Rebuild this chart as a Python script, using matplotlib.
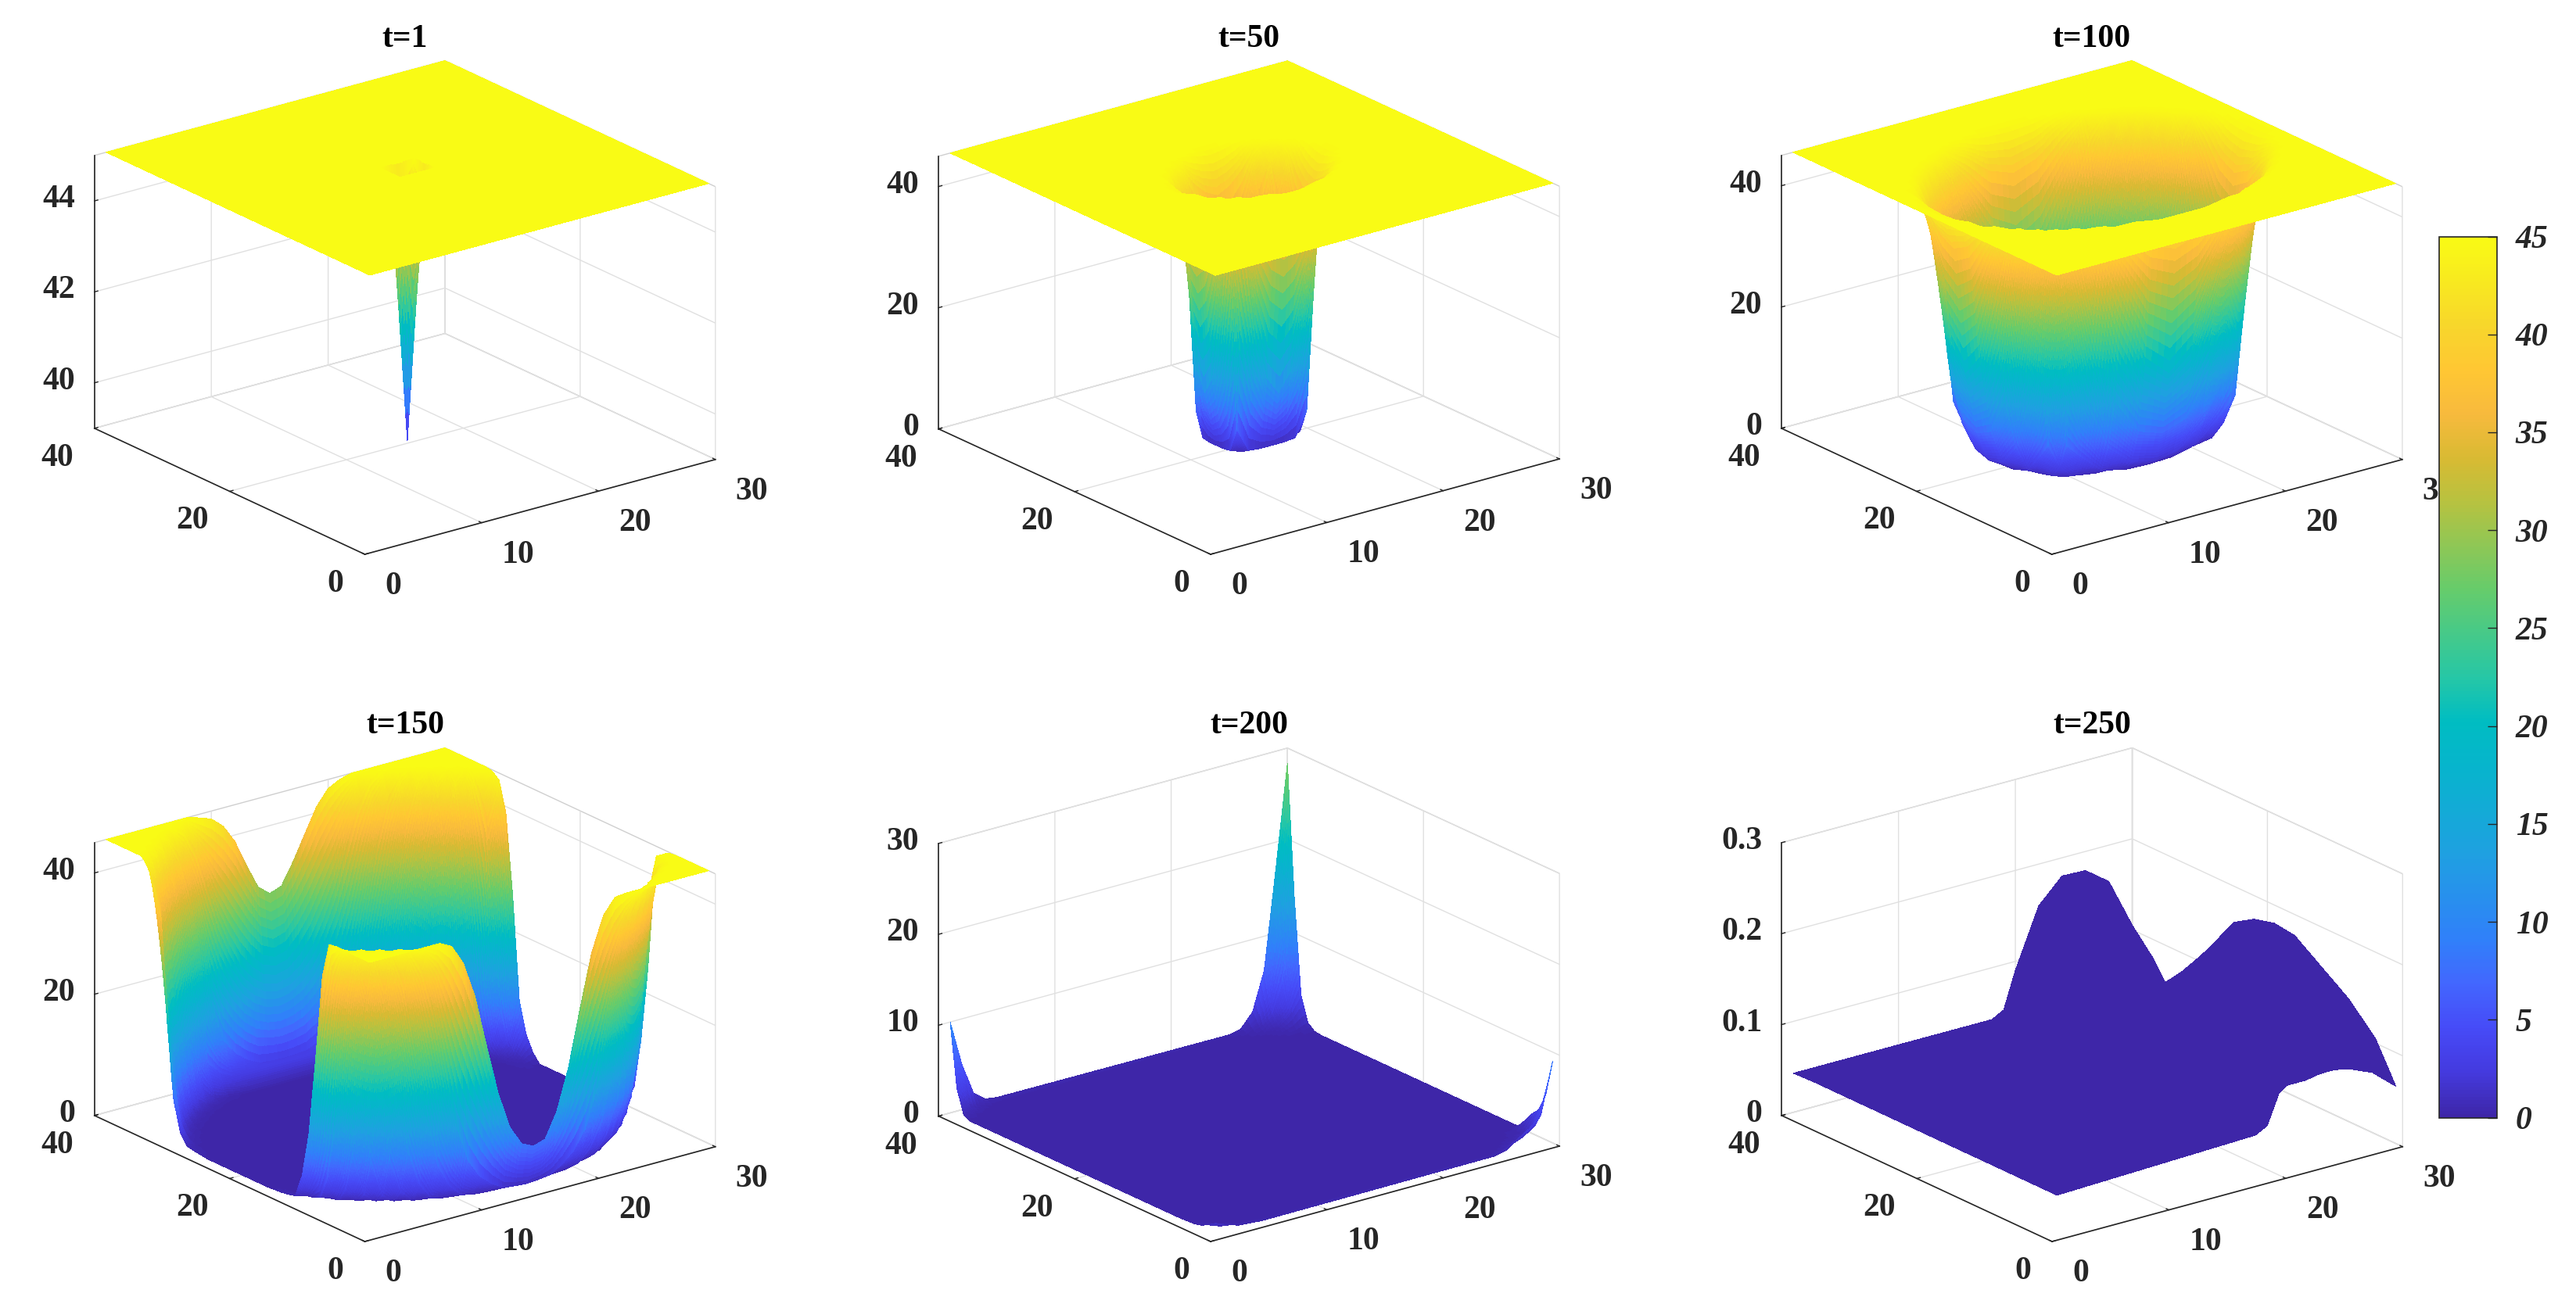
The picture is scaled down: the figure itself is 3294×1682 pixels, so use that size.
import numpy as np
import matplotlib
matplotlib.use("Agg")
import matplotlib.pyplot as plt
from matplotlib.colors import LinearSegmentedColormap, Normalize
from matplotlib.cm import ScalarMappable
from mpl_toolkits.mplot3d import proj3d

W, H = 3294, 1682
plt.rcParams.update({"font.family": "Liberation Serif", "font.weight": "bold", "font.size": 30,
                     "grid.color": "#e0e0e0", "grid.linewidth": 1.0, "axes3d.grid": True})

# ---------------- data ----------------
TITLES = ["t=1", "t=50", "t=100", "t=150", "t=200", "t=250"]
X_TICKS = [0, 10, 20, 30]
Y_TICKS = [0, 20, 40]
Z_TICKS = [[40, 42, 44], [0, 20, 40], [0, 20, 40], [0, 20, 40], [0, 10, 20, 30], [0, 0.1, 0.2, 0.3]]
Z_LIMS = [(39, 45), (0, 45), (0, 45), (0, 45), (0, 30), (0, 0.3)]
C_LIMS = [(39, 45), (0, 45), (0, 45), (0, 45), (0, 45), (0, 45)]
CBAR_TICKS = [0, 5, 10, 15, 20, 25, 30, 35, 40, 45]

T1_X = [1, 14, 15.5, 17, 30]
T1_Y = [1, 19, 20.5, 22, 40]
T1_Z = [[45, 45, 45, 45, 45],
        [45, 45, 45, 45, 45],
        [45, 45, 39, 45, 45],
        [45, 45, 45, 45, 45],
        [45, 45, 45, 45, 45]]

T50_X = [1, 8.5, 9.5, 10.5, 11.5, 12.5, 13.5, 14.5, 15.5, 16.5, 17.5, 18.5, 19.5, 20.5, 21.5, 22.5, 30]
T50_Y = [1, 13.5, 14.5, 15.5, 16.5, 17.5, 18.5, 19.5, 20.5, 21.5, 22.5, 23.5, 24.5, 25.5, 26.5, 27.5, 40]
T50_CORE = [
    [45, 45, 45, 45, 45, 45, 45, 45, 45, 45, 45, 45, 45, 45, 45],
    [45, 45, 45, 45, 45, 44.8, 44.3, 44, 44.3, 44.8, 45, 45, 45, 45, 45],
    [45, 45, 45, 44.9, 43.8, 41, 39, 38, 39, 41, 43.8, 44.9, 45, 45, 45],
    [45, 45, 44.9, 43, 38, 22, 13, 10, 13, 22, 38, 43, 44.9, 45, 45],
    [45, 45, 43.8, 38, 5, 1, .8, .8, .8, 1, 5, 38, 43.8, 45, 45],
    [45, 44.8, 41, 22, 1, .3, .3, .3, .3, .3, 1, 22, 41, 44.8, 45],
    [45, 44.3, 39, 13, .8, .3, .3, .3, .3, .3, .8, 13, 39, 44.3, 45],
    [45, 44, 38, 10, .8, .3, .3, .3, .3, .3, .8, 10, 38, 44, 45],
    [45, 44.3, 39, 13, .8, .3, .3, .3, .3, .3, .8, 13, 39, 44.3, 45],
    [45, 44.8, 41, 22, 1, .3, .3, .3, .3, .3, 1, 22, 41, 44.8, 45],
    [45, 45, 43.8, 38, 5, 1, .8, .8, .8, 1, 5, 38, 43.8, 45, 45],
    [45, 45, 44.9, 43, 38, 22, 13, 10, 13, 22, 38, 43, 44.9, 45, 45],
    [45, 45, 45, 44.9, 43.8, 41, 39, 38, 39, 41, 43.8, 44.9, 45, 45, 45],
    [45, 45, 45, 45, 45, 44.8, 44.3, 44, 44.3, 44.8, 45, 45, 45, 45, 45],
    [45, 45, 45, 45, 45, 45, 45, 45, 45, 45, 45, 45, 45, 45, 45]]

T100_X = [1, 1.5, 2.5, 3.5, 4.5, 5.5, 6.5, 7.5, 8.5, 9.5, 11.5, 13.5, 15.5, 17.5, 19.5, 21.5, 22.5, 23.5, 24.5, 25.5, 26.5, 27.5, 28.5, 29.5, 30]
T100_Y = [1, 6.5, 7.5, 8.5, 9.5, 10.5, 11.5, 12.5, 13.5, 14.5, 16.5, 18.5, 20.5, 22.5, 24.5, 26.5, 27.5, 28.5, 29.5, 30.5, 31.5, 32.5, 33.5, 34.5, 40]
# half rows, centre column first; offsets from the well centre: 0 2 4 6 7 8 9 10 11 12 13 14
H0 = [.3, .3, .3, .3, .3, .3, 1.5, 6.5, 17, 38, 44, 45]
H2 = [.3, .3, .3, .3, .3, .45, 2.3, 7.8, 20.6, 39.4, 44.2, 45]
H4 = [.3, .3, .3, .3, .35, 1.4, 5.6, 13.8, 31.4, 42.6, 44.9, 45]
H6 = [.3, .3, .3, .3, 1, 5, 14.5, 30.5, 42.1, 44.7, 45, 45]
H7 = [.3, .3, .35, 1, 3, 7, 25, 39.6, 44.1, 45, 45, 45]
H8 = [.3, .45, 1.4, 5, 7, 23.2, 38.3, 43.2, 44.9, 45, 45, 45]
H9 = [1.5, 2.3, 5.6, 14.5, 25, 38.3, 42.9, 44.7, 45, 45, 45, 45]
H10 = [6.5, 7.8, 13.8, 30.5, 39.6, 43.2, 44.7, 45, 45, 45, 45, 45]
H11 = [17, 20.6, 31.4, 42.1, 44.1, 44.9, 45, 45, 45, 45, 45, 45]
H12 = [38, 39.4, 42.6, 44.7, 45, 45, 45, 45, 45, 45, 45, 45]
H13 = [44, 44.2, 44.9, 45, 45, 45, 45, 45, 45, 45, 45, 45]
H14 = [45, 45, 45, 45, 45, 45, 45, 45, 45, 45, 45, 45]
T100_HALF_ROWS = [H14, H13, H12, H11, H10, H9, H8, H7, H6, H4, H2, H0, H2, H4, H6, H7, H8, H9, H10, H11, H12, H13, H14]

# t=150: unit grid. Each inner row lists x=1..15; the right part repeats x=14..1, and x=30 is its own list.
T150_X = list(range(1, 31))
T150_Y = list(range(1, 41))
T150_Y1 = [45, 45, 45, 45, 45, 45, 45, 44, 40.7, 34.7, 26, 17.6, 11.5, 8.3, 7.4,
           8, 12, 18.7, 28, 36.7, 42.3, 44.8, 45, 45, 45, 45, 45, 45, 45, 45]
T150_Y40 = [45, 45, 45, 45, 45, 45, 45, 45, 44.4, 43.7, 42, 39, 34.5, 30.4, 28.8,
            29.5, 33, 37, 41, 43.5, 44.5, 45, 45, 45, 45, 45, 45, 45, 45, 45]
T150_X30 = [45, 45, 45, 45, 45, 44.8, 43.5, 40, 24, 12, 3.8, 1, .3, .1, .1, .1, .1, .1, .1, .1,
            .1, .1, .1, .1, .1, 1.5, 4, 9, 26, 39, 43.8, 44.8, 45, 45, 45, 45, 45, 45]
T150_LEFT = [
    [45, 45, 45, 45, 44.4, 41.3, 34.5, 23.5, 13.3, 7.1, 4, 2.3, 1.1, .85, .7],
    [45, 45, 45, 44.1, 39.3, 28.7, 15.4, 6.7, 2.9, .96, .5, .35, .25, .2, .2],
    [45, 45, 44, 38, 24, 9.6, 3.7, .96, .45, .2, .1, .1, .1, .1, .1],
    [45, 44.1, 38, 22.8, 8.2, 2.5, .55, .25, .1, .1, .1, .1, .1, .1, .1],
    [45, 38.8, 23.5, 7.8, 1.8, .45, .15, .1, .1, .1, .1, .1, .1, .1, .1],
    [44.8, 27, 8.9, 2, .45, .15, .1, .1, .1, .1, .1, .1, .1, .1, .1],
    [39, 12.5, 2.9, .5, .15, .1, .1, .1, .1, .1, .1, .1, .1, .1, .1],
    [25, 4.6, .6, .2, .1, .1, .1, .1, .1, .1, .1, .1, .1, .1, .1],
    [12, 1.1, .3, .1, .1, .1, .1, .1, .1, .1, .1, .1, .1, .1, .1],
    [4.6, .5, .1, .1, .1, .1, .1, .1, .1, .1, .1, .1, .1, .1, .1],
    [.8, .25, .1, .1, .1, .1, .1, .1, .1, .1, .1, .1, .1, .1, .1],
    [.5, .1, .1, .1, .1, .1, .1, .1, .1, .1, .1, .1, .1, .1, .1],
    [.3, .1, .1, .1, .1, .1, .1, .1, .1, .1, .1, .1, .1, .1, .1],
    [.2, .1, .1, .1, .1, .1, .1, .1, .1, .1, .1, .1, .1, .1, .1],
    [.1, .1, .1, .1, .1, .1, .1, .1, .1, .1, .1, .1, .1, .1, .1],
    [.1, .1, .1, .1, .1, .1, .1, .1, .1, .1, .1, .1, .1, .1, .1],
    [.1, .1, .1, .1, .1, .1, .1, .1, .1, .1, .1, .1, .1, .1, .1],
    [.1, .1, .1, .1, .1, .1, .1, .1, .1, .1, .1, .1, .1, .1, .1],
    [.1, .1, .1, .1, .1, .1, .1, .1, .1, .1, .1, .1, .1, .1, .1],
    [.1, .1, .1, .1, .1, .1, .1, .1, .1, .1, .1, .1, .1, .1, .1],
    [.1, .1, .1, .1, .1, .1, .1, .1, .1, .1, .1, .1, .1, .1, .1],
    [.1, .1, .1, .1, .1, .1, .1, .1, .1, .1, .1, .1, .1, .1, .1],
    [.1, .1, .1, .1, .1, .1, .1, .1, .1, .1, .1, .1, .1, .1, .1],
    [.1, .1, .1, .1, .1, .1, .1, .1, .1, .1, .1, .1, .1, .1, .1],
    [.25, .1, .1, .1, .1, .1, .1, .1, .1, .1, .1, .1, .1, .1, .1],
    [.4, .1, .1, .1, .1, .1, .1, .1, .1, .1, .1, .1, .1, .1, .1],
    [.65, .15, .1, .1, .1, .1, .1, .1, .1, .1, .1, .1, .1, .1, .1],
    [2.3, .35, .1, .1, .1, .1, .1, .1, .1, .1, .1, .1, .1, .1, .1],
    [7.2, .7, .2, .1, .1, .1, .1, .1, .1, .1, .1, .1, .1, .1, .1],
    [20, 2.9, .45, .1, .1, .1, .1, .1, .1, .1, .1, .1, .1, .1, .1],
    [38.5, 8.9, 1.6, .35, .1, .1, .1, .1, .1, .1, .1, .1, .1, .1, .1],
    [42, 22.8, 6.7, 1.1, .35, .1, .1, .1, .1, .1, .1, .1, .1, .1, .1],
    [44.5, 37.3, 19.9, 6, 1.1, .35, .1, .1, .1, .1, .1, .1, .1, .1, .1],
    [45, 43.8, 36.4, 19.9, 6.7, 1.6, .5, .2, .1, .1, .1, .1, .1, .1, .1],
    [45, 45, 43.8, 37, 22, 8.5, 2.9, .8, .4, .2, .1, .1, .1, .1, .1],
    [45, 45, 45, 44, 38.5, 27, 14, 6, 4, 3, 3, 3, 3, 3, 3],
    [45, 45, 45, 45, 44.4, 41.3, 34.5, 23.5, 13.3, 8, 5.5, 4, 3, 2.8, 2.7],
    [45, 45, 45, 45, 45, 45, 44, 40.6, 34.5, 28, 23, 19, 16.5, 15, 14.5]]

T200_X = [1, 2, 3, 4, 5, 25, 26, 27, 28, 29, 30]
T200_Y = [1, 2, 3, 4, 6, 35, 36, 37, 38, 39, 40]
T200_Z = [
    [1.3, .8, .4, .3, .2, .3, .6, 1.5, 2.3, 3.5, 9],
    [.8, .3, .2, .1, .1, .1, .2, .5, 1, 1.8, 5],
    [.4, .2, .1, .1, .1, .1, .1, .2, .4, .9, 3],
    [.2, .1, .1, .1, .1, .1, .1, .1, .2, .4, 2.2],
    [.1, .1, .1, .1, .1, .1, .1, .1, .1, .1, .1],
    [.1, .1, .1, .1, .1, .1, .1, .1, .1, .1, .1],
    [.1, .1, .1, .1, .1, .1, .1, .1, .1, .1, .2],
    [.1, .1, .1, .1, .1, .1, .1, .1, .2, .3, .8],
    [.5, .2, .1, .1, .1, .1, .1, .2, .5, 1.5, 3.5],
    [3, 1, .3, .1, .1, .1, .2, .6, 1.5, 5, 14],
    [10, 5, 1.5, .5, .3, .2, .5, 2, 6.2, 17, 28.3]]

T250_X = [1, 18, 19, 20, 22, 24, 26, 28, 30]
T250_Y = [1, 4, 8, 12, 16, 19, 22, 25, 29, 32, 34, 37, 40]
T250_Z = [
    [.044, .051, .058, .09, .11, .105, .096, .085, .063],
    [.044, .044, .05, .06, .08, .08, .085, .095, .105],
    [.044, .044, .045, .05, .06, .07, .085, .11, .135],
    [.044, .044, .045, .05, .055, .07, .09, .12, .156],
    [.044, .044, .045, .05, .055, .07, .1, .14, .177],
    [.044, .044, .045, .05, .06, .075, .105, .145, .18],
    [.044, .044, .045, .05, .06, .08, .105, .14, .174],
    [.044, .044, .045, .05, .06, .08, .1, .13, .16],
    [.044, .044, .045, .05, .065, .08, .09, .1, .115],
    [.044, .044, .045, .05, .06, .06, .06, .05, .062],
    [.044, .044, .045, .055, .08, .08, .06, .05, .046],
    [.044, .044, .046, .07, .12, .13, .1, .07, .08],
    [.043, .043, .05, .09, .154, .18, .179, .16, .105]]

# parula-like colour stops
STOPS = [(0.00, (.2422, .1504, .6603)), (0.05, (.2670, .2270, .8720)), (0.10, (.2760, .2920, .9700)),
         (0.15, (.2620, .4000, .9960)), (0.20, (.1900, .5000, .9800)), (0.30, (.1200, .6300, .8800)),
         (0.40, (.0250, .7100, .8000)), (0.45, (.0000, .7400, .7600)), (0.50, (.1500, .7800, .6500)),
         (0.60, (.4000, .8000, .4200)), (0.70, (.7200, .7600, .2500)), (0.75, (.8500, .7300, .2000)),
         (0.80, (.9700, .7300, .2400)), (0.85, (1.000, .7800, .2000)), (0.90, (.9700, .8400, .1700)),
         (1.00, (.9769, .9839, .0805))]
parula = LinearSegmentedColormap.from_list("parula_like", STOPS, N=256)


def with_plane(xs, ys, core, level=45.0):
    """Add the flat outer border (the undisturbed plane) round a typed patch."""
    out = np.full((len(ys), len(xs)), level)
    out[1:-1, 1:-1] = np.asarray(core, float)
    return out


T100_CORE = [h[:0:-1] + h for h in T100_HALF_ROWS]
T150_Z = [T150_Y1] + [left + left[-2::-1] + [edge] for left, edge in zip(T150_LEFT, T150_X30)] + [T150_Y40]

SURFACES = [(T1_X, T1_Y, np.array(T1_Z, float)),
            (T50_X, T50_Y, with_plane(T50_X, T50_Y, T50_CORE)),
            (T100_X, T100_Y, with_plane(T100_X, T100_Y, T100_CORE)),
            (T150_X, T150_Y, np.array(T150_Z, float)),
            (T200_X, T200_Y, np.array(T200_Z, float)),
            (T250_X, T250_Y, np.array(T250_Z, float))]


def subdivide(xs, ys, zz, span):
    """Split each facet so colour varies smoothly over it, as MATLAB's shading interp does."""
    xs = np.asarray(xs, float)
    ys = np.asarray(ys, float)

    def fine(c, d):
        pts = [c[:1]]
        for i in range(len(c) - 1):
            n = int(np.ceil(max((c[i + 1] - c[i]) / 0.7, min(d[i] / span * 45 / 1.2, 10))))
            pts.append(np.linspace(c[i], c[i + 1], max(n, 1) + 1)[1:])
        return np.concatenate(pts)

    fx = fine(xs, np.abs(np.diff(zz, axis=1)).max(axis=0))
    fy = fine(ys, np.abs(np.diff(zz, axis=0)).max(axis=1))
    tmp = np.array([np.interp(fx, xs, row) for row in zz])
    out = np.array([np.interp(fy, ys, col) for col in tmp.T]).T
    gx, gy = np.meshgrid(fx, fy)
    return gx, gy, out


# ---------------- layout (pixels) ----------------
FRONT = [(466.5, 709), (1548, 709), (2623.6, 709), (466.5, 1588), (1548, 1588), (2624, 1588)]
TITLE_POS = [(518, 58), (1597, 58), (2674, 58), (518, 936), (1597, 936), (2675, 936)]
SPAN_PX = 794.0
ELEV = 20.8
AZIMS = [-127.3, -127.6, -127.3, -127.3, -127.6, -127.3]
BOX = (563, 570, 373)

fig = plt.figure(figsize=(W / 100, H / 100), dpi=100, facecolor="white")


def corner_px(ax, x, y, z):
    xs, ys, _ = proj3d.proj_transform(x, y, z, ax.get_proj())
    return ax.transData.transform((xs, ys))


def label_at(ax, x, y, z, dx, dy, text, ha):
    px = corner_px(ax, x, y, z)
    ax.text2D((px[0] + dx) / W, (px[1] - dy) / H, text, transform=fig.transFigure, ha=ha, va="center",
              fontsize=30, fontweight="bold", color="#262626", clip_on=False)


for i, (title, (xs, ys, zz)) in enumerate(zip(TITLES, SURFACES)):
    size = 1100.0
    fx, fy = FRONT[i]
    ax = fig.add_axes([(fx - size / 2) / W, (H - fy - size / 2) / H, size / W, size / H], projection="3d", proj_type="ortho")
    ax.patch.set_alpha(0)
    ax.view_init(elev=ELEV, azim=AZIMS[i])
    ax.set_box_aspect(BOX)
    ax.set_xlim(0, 30)
    ax.set_ylim(0, 40)
    ax.set_zlim(*Z_LIMS[i])

    for _ in range(3):
        zlo = Z_LIMS[i][0]
        left = corner_px(ax, 0, 40, zlo)
        right = corner_px(ax, 30, 0, zlo)
        size *= SPAN_PX / (right[0] - left[0])
        pos = ax.get_position()
        ax.set_position([pos.x0, pos.y0, size / W, size / H])
        front = corner_px(ax, 0, 0, zlo)
        pos = ax.get_position()
        ax.set_position([pos.x0 + (fx - front[0]) / W, pos.y0 + ((H - fy) - front[1]) / H, pos.width, pos.height])

    gx, gy, gz = subdivide(xs, ys, zz, C_LIMS[i][1] - C_LIMS[i][0])
    ax.plot_surface(gx, gy, gz, rstride=1, cstride=1, cmap=parula, norm=Normalize(*C_LIMS[i]),
                    linewidth=0, antialiased=False, shade=False)

    ax.set_xticks(X_TICKS)
    ax.set_yticks(Y_TICKS)
    ax.set_zticks(Z_TICKS[i])
    ax.set_xticklabels([])
    ax.set_yticklabels([])
    ax.set_zticklabels([])
    ax.set_xlim(0, 30)
    ax.set_ylim(0, 40)
    ax.set_zlim(*Z_LIMS[i])
    for axis in (ax.xaxis, ax.yaxis, ax.zaxis):
        axis.set_pane_color((1, 1, 1, 1))
        axis.pane.set_edgecolor("#cfcfcf")
        axis.line.set_color("#262626")
        axis.line.set_linewidth(1.2)
        axis._axinfo["tick"]["inward_factor"] = 0.0
        axis._axinfo["tick"]["outward_factor"] = 0.12
        axis._axinfo["tick"]["linewidth"] = {True: 1.0, False: 0.5}
    ax.tick_params(axis="both", colors="#262626")

    zlo = Z_LIMS[i][0]
    for t in X_TICKS:
        label_at(ax, t, 0, zlo, 26, 41, str(t), "left")
    for t in Y_TICKS:
        label_at(ax, 0, t, zlo, -27, 38, str(t), "right")
    for t in Z_TICKS[i]:
        label_at(ax, 0, 40, t, -25, -2, str(t), "right")

    pos = ax.get_position()
    tx, ty = TITLE_POS[i]
    ttl = ax.set_title(title, fontsize=30, fontweight="bold", ha="center", va="center")
    ttl.set_position(((tx / W - pos.x0) / pos.width, ((H - ty) / H - pos.y0) / pos.height))
    ax._autotitlepos = False

# ---------------- colour bar ----------------
cax = fig.add_axes([3119 / W, (H - 1429.5) / H, 74 / W, 1127 / H], zorder=20)
cb = fig.colorbar(ScalarMappable(Normalize(0, 45), parula), cax=cax, ticks=CBAR_TICKS)
cb.ax.tick_params(direction="in", length=9, width=1, color="#262626", pad=17, labelsize=30)
cb.outline.set_linewidth(1.2)
cb.outline.set_edgecolor("#262626")
for lab in cb.ax.get_yticklabels():
    lab.set_fontstyle("italic")
    lab.set_fontweight("bold")
    lab.set_color("#262626")

fig.savefig("out.png", dpi=100, facecolor="white")
